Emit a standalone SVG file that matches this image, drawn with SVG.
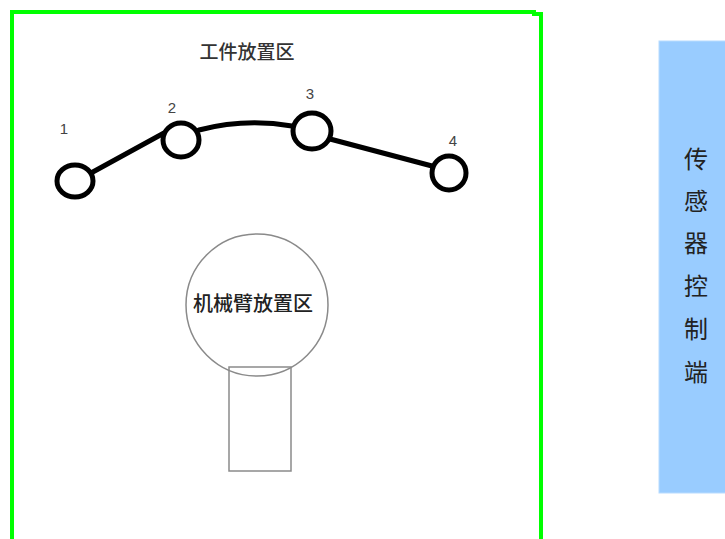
<svg xmlns="http://www.w3.org/2000/svg" width="725" height="539" viewBox="0 0 725 539">
<style>
.cjk{font-family:"Noto Sans CJK SC","Liberation Sans",sans-serif;}
.num{font-family:"Liberation Sans",sans-serif;font-size:15px;fill:#444;text-anchor:middle;dominant-baseline:central;}
.node{fill:none;stroke:#000;stroke-width:5;}
.conn{fill:none;stroke:#000;stroke-width:5;stroke-linecap:round;}
.arm{fill:none;stroke:#8a8a8a;stroke-width:1.5;}
</style>
<rect width="725" height="539" fill="#fff"/>
<g id="frame">
<path d="M12,545 L12,12 L534,12 L534,14 L541,14 L541,545" fill="none" stroke="#00ff00" stroke-width="4"/>
</g>
<text class="cjk" x="247" y="50" font-size="19" font-weight="500" fill="#333" text-anchor="middle" dominant-baseline="central">工件放置区</text>
<g id="connectors">
<path class="conn" d="M91,173 L164,133"/>
<path class="conn" d="M199,130 Q245,118 292,126"/>
<path class="conn" d="M330,139 L432,166"/>
</g>
<g id="node1"><ellipse class="node" cx="75" cy="181" rx="18" ry="16"/><text class="num" x="64" y="128">1</text></g>
<g id="node2"><ellipse class="node" cx="181" cy="140" rx="18" ry="17"/><text class="num" x="172" y="107">2</text></g>
<g id="node3"><ellipse class="node" cx="312" cy="131" rx="19" ry="18"/><text class="num" x="310" y="93">3</text></g>
<g id="node4"><ellipse class="node" cx="449" cy="173" rx="17" ry="17"/><text class="num" x="453" y="140">4</text></g>
<g id="arm">
<rect class="arm" x="229" y="367" width="62" height="104"/>
<circle class="arm" cx="257" cy="305" r="71"/>
<text class="cjk" x="253" y="302" font-size="20" font-weight="500" fill="#222" text-anchor="middle" dominant-baseline="central">机械臂放置区</text>
</g>
<g id="sensor">
<rect x="659" y="41" width="70" height="452" fill="#99ccff" stroke="#b8dcff" stroke-width="1"/>
<g class="cjk" font-size="24" fill="#222" text-anchor="middle" dominant-baseline="central">
<text x="696" y="157">传</text>
<text x="696" y="199">感</text>
<text x="696" y="241">器</text>
<text x="696" y="284">控</text>
<text x="696" y="327">制</text>
<text x="696" y="370">端</text>
</g>
</g>
</svg>
